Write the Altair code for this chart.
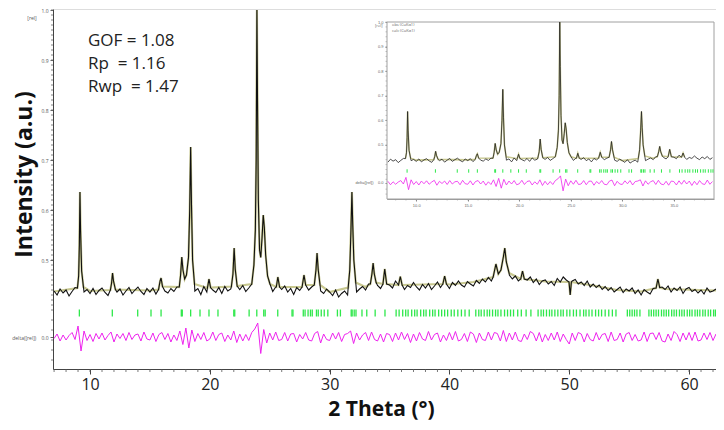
import altair as alt
import pandas as pd

# ---------------- data ----------------
X0, STEP = 7.0, 0.25
# observed background, thousandths of [rel], one row per degree (7.00, 7.25, 7.50, 7.75 ...)
obs_bg = [
    438, 430, 442, 434,  440, 428, 437, 445,  432, 440, 436, 441,  433, 443, 431, 439,
    444, 435, 429, 441,  447, 436, 442, 430,  438, 445, 433, 440,  446, 437, 431, 443,
    436, 444, 432, 441,  449, 438, 434, 443,  437, 446, 432, 444,  440, 435, 446, 438,
    443, 431, 447, 436,  452, 440, 435, 445,  433, 447, 438, 442,  446, 434, 441, 449,
    437, 444, 447, 450,  455, 450, 452, 448,  444, 437, 446, 433,  441, 448, 436, 443,
    431, 445, 439, 447,  452, 440, 446, 435,  449, 438, 433, 442,  436, 429, 440, 426,
    433, 438, 430, 441,  444, 436, 442, 447,  440, 452, 446, 455,  449, 443, 457, 446,
    450, 444, 458, 447,  452, 441, 449, 445,  455, 446, 440, 451,  444, 453, 441, 448,
    456, 445, 452, 447,  443, 455, 449, 458,  450, 446, 457, 452,  448, 459, 453, 462,
    456, 465, 458, 470,  468, 478, 472, 466,  470, 462, 468, 458,  465, 472, 460, 466,
    455, 462, 451, 458,  460, 452, 457, 449,  463, 456, 466, 460,  468, 458, 461, 452,
    456, 449, 458, 446,  452, 445, 450, 441,  447, 439, 445, 436,  441, 446, 435, 442,
    438, 444, 433, 440,  430, 441, 436, 432,  443, 438, 450, 446,  441, 448, 436, 444,
    439, 446, 433, 442,  445, 437, 441, 434,  440, 432, 444, 436,  438, 442,
]
# difference curve (obs - calc), thousandths, same grid
delta_bg = [
    -3, 6, -8, 4,  -6, 3, 9, -5,  22, -28, 12, -7,  5, -9, 7, -4,
    8, -6, 3, 10,  -10, 6, -3, 7,  -7, 9, -5, 4,  6, -8, 10, -4,
    -6, 8, -9, 5,  9, -5, 7, -10,  4, -7, 12, -15,  18, -22, 14, -9,
    7, -5, 9, -8,  -4, 10, -7, 5,  8, -9, 4, -6,  12, -11, 6, -8,
    5, -7, 9, 16,  28, -33, 15, -12,  8, -6, 10, -7,  -5, 9, -8, 6,
    7, -10, 5, -4,  9, -6, -8, 7,  11, -12, 6, -5,  -7, 8, -4, 9,
    -9, 5, 7, 12,  -13, 8, -6, 4,  9, -7, 10, -5,  -8, 6, -10, 7,
    5, -9, 8, -6,  10, -5, 7, -11,  6, -8, 9, -4,  -7, 11, -6, 5,
    8, -10, 4, -7,  9, -6, 11, -8,  -5, 7, -9, 10,  6, -11, 8, -5,
    -7, 10, -6, 9,  7, -8, 13, -9,  8, -6, 10, -7,  -9, 6, -5, 11,
    7, -8, 9, -10,  5, -7, 8, -6,  10, -9, 6, -5,  -14, 8, -7, 9,
    6, -10, 7, -5,  -8, 9, -6, 5,  7, -9, 10, -7,  -5, 8, -10, 6,
    9, -7, 5, -8,  -6, 10, -9, 7,  8, -5, 9, -8,  -10, 6, -7, 11,
    5, -9, 8, -6,  9, -7, 10, -8,  -6, 8, -5, 9,  -7, 6,
]
# reflections (2theta, [rel]) read along each peak
peaks = [
    [(8.95, 0.444), (9.05, 0.468), (9.11, 0.53), (9.16, 0.636), (9.21, 0.56), (9.30, 0.478), (9.45, 0.446)],
    [(11.70, 0.440), (11.80, 0.454), (11.88, 0.474), (11.96, 0.458), (12.12, 0.441)],
    [(15.72, 0.441), (15.85, 0.458), (15.93, 0.464), (16.05, 0.447)],
    [(17.45, 0.446), (17.56, 0.470), (17.66, 0.506), (17.76, 0.480), (17.90, 0.462), (18.05, 0.470),
     (18.22, 0.505), (18.32, 0.60), (18.40, 0.726), (18.47, 0.61), (18.56, 0.50), (18.72, 0.452)],
    [(19.80, 0.444), (19.93, 0.462), (20.06, 0.445)],
    [(21.80, 0.447), (21.93, 0.472), (22.03, 0.524), (22.12, 0.482), (22.28, 0.448)],
    [(23.50, 0.452), (23.68, 0.49), (23.80, 0.56), (23.87, 0.70), (23.93, 1.0), (23.98, 0.82),
     (24.05, 0.62), (24.15, 0.52), (24.25, 0.505), (24.36, 0.545), (24.46, 0.59), (24.55, 0.565),
     (24.66, 0.51), (24.82, 0.468), (25.02, 0.452)],
    [(25.55, 0.446), (25.68, 0.466), (25.82, 0.446)],
    [(27.70, 0.446), (27.86, 0.470), (28.00, 0.450)],
    [(28.72, 0.450), (28.86, 0.480), (28.95, 0.514), (29.05, 0.480), (29.20, 0.450)],
    [(31.55, 0.445), (31.68, 0.48), (31.78, 0.56), (31.86, 0.636), (31.93, 0.57), (32.02, 0.50), (32.18, 0.455)],
    [(33.40, 0.452), (33.53, 0.472), (33.63, 0.494), (33.73, 0.472), (33.88, 0.455)],
    [(34.45, 0.452), (34.60, 0.482), (34.76, 0.452)],
    [(35.75, 0.450), (35.90, 0.467), (36.05, 0.450)],
    [(39.45, 0.452), (39.60, 0.468), (39.75, 0.452)],
    [(43.65, 0.466), (43.88, 0.492), (44.08, 0.472), (44.30, 0.480), (44.50, 0.506), (44.62, 0.524),
     (44.75, 0.496), (44.98, 0.474)],
    [(45.95, 0.462), (46.10, 0.478), (46.25, 0.462)],
    [(49.98, 0.456), (50.08, 0.430), (50.18, 0.456)],
    [(57.25, 0.444), (57.40, 0.462), (57.55, 0.445)],
]
# smooth calculated background
calc_bg_x = [7, 10, 15, 20, 25, 30, 33, 36, 40, 42, 44, 46, 48, 50, 52, 54, 56, 58, 62.25]
calc_bg_y = [0.437, 0.438, 0.439, 0.440, 0.441, 0.436, 0.446, 0.448, 0.451, 0.456, 0.466,
             0.462, 0.457, 0.459, 0.449, 0.440, 0.437, 0.442, 0.439]
# Bragg reflection markers
ref_pos = [
    9.11, 11.86, 13.98, 15.09, 15.93, 17.62, 17.70, 18.40, 19.18, 19.93, 20.68, 22.00, 22.08,
    23.28, 23.92, 24.50, 24.62, 25.67, 26.86, 26.94, 27.80, 27.95, 28.20, 28.40, 28.55, 28.90,
    29.05, 29.30, 29.55, 29.85, 30.65, 30.90, 31.80, 31.88, 32.05, 32.20, 32.70, 33.10, 33.80,
    34.62, 35.55, 35.80, 36.10, 36.35, 36.55, 36.85, 37.10, 37.30, 37.60, 37.85, 38.05, 38.35,
    38.60, 38.80, 39.10, 39.35, 39.60, 39.85, 40.15, 40.40, 40.70, 41.00, 41.30, 41.65, 42.20,
    42.45, 42.65, 42.90, 43.15, 43.35, 43.60, 43.85, 44.05, 44.30, 44.60, 44.85, 45.10, 45.35,
    45.70, 46.00, 46.40, 46.80, 47.40, 47.65, 47.85, 48.10, 48.35, 48.55, 48.80, 49.05, 49.30,
    49.50, 49.80, 50.05, 50.35, 50.60, 50.90, 51.20, 51.40, 51.65, 51.90, 52.20, 52.45, 52.70,
    53.00, 53.30, 53.60, 53.90, 54.85, 55.05, 55.25, 55.45, 55.65, 55.90, 56.65, 56.85, 57.05,
    57.25, 57.45, 57.70, 57.90, 58.10, 58.30, 58.55, 58.75, 58.95, 59.20, 59.40, 59.60, 59.85,
    60.05, 60.25, 60.50, 60.70, 60.90, 61.15, 61.35, 61.60, 61.80, 62.05, 62.20,
]
stats = ["GOF = 1.08", "Rp\u00a0 = 1.16", "Rwp\u00a0 = 1.47"]
stat_x = [9.83, 9.83, 9.83]
stat_y = [0.938, 0.892, 0.846]
DELTA_ZERO = 0.346   # where delta = 0 sits on the intensity axis
TICK_LO, TICK_HI = 0.387, 0.401
NB = "\u00a0"
DELTA_LABEL = "delta([rel])" + NB * 4 + "0.0"

# axis tick positions
x_major = [10, 20, 30, 40, 50, 60]
y_major = [DELTA_ZERO, 0.5, 0.6, 0.7, 0.8, 0.9, 1.0]
x_minor = list(range(7, 63))
y_minor = [0.30, 0.32, 0.34, 0.36, 0.38] + [round(0.40 + 0.01 * i, 2) for i in range(61)]
ix_major = [10, 15, 20, 25, 30, 35]
ix_minor = list(range(8, 39))
iy_minor = [0.30, 0.32, 0.36, 0.38] + [round(0.40 + 0.02 * i, 2) for i in range(31)]

# ---------------- assemble tables ----------------
grid = [X0 + i * STEP for i in range(len(obs_bg))]
spans = [(p[0][0], p[-1][0]) for p in peaks]
peak_pts = [pt for p in peaks for pt in p]


def outside(x):
    return all(not (a <= x <= b) for a, b in spans)


obs = sorted([(x, v / 1000) for x, v in zip(grid, obs_bg) if outside(x)] + peak_pts)
calc = sorted([(x, y) for x, y in zip(calc_bg_x, calc_bg_y) if outside(x)] + peak_pts)

obs_df = pd.DataFrame(obs, columns=["x", "y"])
calc_df = pd.DataFrame(calc, columns=["x", "y"])
delta_df = pd.DataFrame({"x": grid, "d": [v / 1000 for v in delta_bg]})
delta_df["y"] = DELTA_ZERO + delta_df["d"]
tick_df = pd.DataFrame({"x": ref_pos, "y": TICK_LO, "y2": TICK_HI})
stat_df = pd.DataFrame({"t": stats, "x": stat_x, "y": stat_y})

FONT = "Open Sans"
label_expr = "datum.value < 0.4 ? '%s' : format(datum.value, '.1f')" % DELTA_LABEL

# ---------------- main plot ----------------
W, H = 663, 360
sx = alt.Scale(domain=[6.91, 62.25], nice=False, zero=False)
sy = alt.Scale(domain=[0.282, 1.002], nice=False, zero=False)

x_axis = alt.Axis(values=x_major, format="d",
                  labelFontSize=16, labelFont=FONT, labelColor="#222", tickSize=5, tickColor="#444",
                  domainColor="#444", labelPadding=2, grid=False, labelOverlap=False, labelFlush=False,
                  title="2 Theta (°)", titleFont=FONT, titleFontSize=21, titleFontWeight="bold",
                  titleColor="#111", titleBaseline="alphabetic", titleY=46, titleX=328)
y_axis = alt.Axis(values=y_major, labelExpr=label_expr,
                  labelFontSize=5, labelColor="#555", labelFont=FONT, labelOverlap=False, labelFlush=False,
                  tickSize=3, tickColor="#666", domainColor="#444", labelPadding=2, grid=False,
                  title="Intensity (a.u.)", titleFont=FONT, titleFontSize=23,
                  titleFontWeight="bold", titleColor="#111", titleX=-17, titleY=165,
                  titleBaseline="bottom")


def MX(f="x:Q"):
    return alt.X(f, scale=sx, axis=x_axis)


def MY(f="y:Q"):
    return alt.Y(f, scale=sy, axis=y_axis)


calc_line = alt.Chart(calc_df).mark_line(color="#c8c890", strokeWidth=2.2).encode(x=MX(), y=MY())
obs_line = alt.Chart(obs_df).mark_line(color="#111", strokeWidth=1.1).encode(x=MX(), y=MY())
delta_line = alt.Chart(delta_df).mark_line(color="#ee22ee", strokeWidth=1.0).encode(x=MX(), y=MY())
ref_rules = alt.Chart(tick_df).mark_rule(color="#2ee84a", strokeWidth=1.3).encode(
    x=MX(), y=MY(), y2="y2:Q")
stat_text = alt.Chart(stat_df).mark_text(
    align="left", baseline="middle", font=FONT, fontSize=17, color="#222").encode(
    x=MX(), y=MY(), text="t:N")
rel_text = alt.Chart(pd.DataFrame({"t": ["[rel]"]})).mark_text(
    fontSize=5, color="#555", font=FONT).encode(x=alt.value(-21), y=alt.value(9), text="t:N")
x_minor_ticks = alt.Chart(pd.DataFrame({"x": x_minor})).mark_rule(color="#555", strokeWidth=0.8).encode(
    x=MX(), y=alt.value(H), y2=alt.value(H + 3))
y_minor_ticks = alt.Chart(pd.DataFrame({"y": y_minor})).mark_rule(color="#666", strokeWidth=0.8).encode(
    y=MY(), x=alt.value(-2), x2=alt.value(0))

main = alt.layer(calc_line, obs_line, delta_line, ref_rules, stat_text, rel_text,
                 x_minor_ticks, y_minor_ticks)

# ---------------- inset (same data, 7-39 degrees) ----------------
IL, IR, IB, IT = 334, 661, 190, 13
ix = alt.Scale(domain=[7.16, 38.9], range=[IL, IR], nice=False, zero=False)
iy = alt.Scale(domain=[0.28, 1.0], range=[IB, IT], nice=False, zero=False)
ix_axis = alt.Axis(orient="bottom", offset=IB - H, values=ix_major, format=".1f",
                   labelFontSize=4, labelColor="#666", tickSize=2, tickColor="#888", domainColor="#999",
                   labelPadding=2, grid=False, labelOverlap=False, labelFlush=False, title=None)
iy_axis = alt.Axis(orient="left", offset=-IL, values=y_major, labelExpr=label_expr,
                   labelFontSize=4, labelColor="#666", tickSize=2, tickColor="#888", domainColor="#999",
                   labelPadding=2, grid=False, labelOverlap=False, labelFlush=False, title=None)


def IX(f="x:Q"):
    return alt.X(f, scale=ix, axis=ix_axis)


def IY(f="y:Q"):
    return alt.Y(f, scale=iy, axis=iy_axis)


flt = "datum.x >= 7.16 && datum.x <= 38.9"

frame = alt.Chart(pd.DataFrame({"x": [7.16], "x2": [38.9], "y": [0.28], "y2": [1.0]})).mark_rect(
    fill="white", stroke="#a0a0a0", strokeWidth=1).encode(x=IX(), x2="x2:Q", y=IY(), y2="y2:Q")
i_calc = alt.Chart(calc_df).transform_filter(flt).mark_line(color="#c8c890", strokeWidth=1.6).encode(
    x=IX(), y=IY())
i_obs = alt.Chart(obs_df).transform_filter(flt).mark_line(color="#222", strokeWidth=0.8).encode(
    x=IX(), y=IY())
i_delta = alt.Chart(delta_df).transform_filter(flt).mark_line(color="#ee22ee", strokeWidth=0.8).encode(
    x=IX(), y=IY())
i_ref = alt.Chart(tick_df).transform_filter(flt).mark_rule(color="#2ee84a", strokeWidth=1).encode(
    x=IX(), y=IY(), y2="y2:Q")
i_legend = alt.Chart(pd.DataFrame({"t": ["obs (CuKα1)", "calc (CuKα1)", "[rel]"],
                                   "px": [339, 339, 322], "py": [16, 22, 17]})).mark_text(
    align="left", baseline="middle", fontSize=4, color="#666", font=FONT).encode(
    x=alt.X("px:Q", scale=None), y=alt.Y("py:Q", scale=None), text="t:N")
i_x_minor = alt.Chart(pd.DataFrame({"x": ix_minor})).mark_rule(color="#999", strokeWidth=0.6).encode(
    x=IX(), y=alt.value(IB), y2=alt.value(IB + 1.5))
i_y_minor = alt.Chart(pd.DataFrame({"y": iy_minor})).mark_rule(color="#999", strokeWidth=0.6).encode(
    y=IY(), x=alt.value(IL - 1.5), x2=alt.value(IL))

inset = alt.layer(frame, i_calc, i_obs, i_delta, i_ref, i_legend, i_x_minor, i_y_minor)

chart = alt.layer(main, inset).resolve_scale(x="independent", y="independent").properties(
    width=W, height=H,
    autosize=alt.AutoSizeParams(type="none"),
    padding={"left": 45, "top": 1, "right": 0, "bottom": 53},
).configure_view(stroke="#444", strokeWidth=1).configure_axis(labelOverlap=False).configure(
    background="white")

chart.save("out.html", embed_options={"renderer": "svg", "actions": False})
